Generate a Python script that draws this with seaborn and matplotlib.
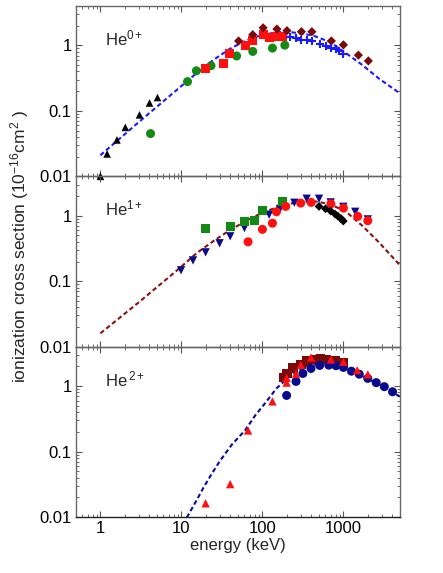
import matplotlib
matplotlib.use("Agg")
import matplotlib.pyplot as plt
import seaborn as sns
import pandas as pd
from matplotlib.ticker import LogLocator, FixedLocator, FixedFormatter, NullFormatter

# ---------------- data ----------------
# Panel 1: He0+
p1_tri_x = [1, 1.21, 1.6, 2.03, 3.04, 4.04, 5.07]
p1_tri_y = [0.01, 0.022, 0.036, 0.056, 0.087, 0.132, 0.16]
p1_circ_x = [4.16, 11.9, 15.3, 23.2, 48, 76, 133, 189]
p1_circ_y = [0.045, 0.28, 0.41, 0.49, 0.69, 0.81, 0.91, 1.01]
p1_sq_x = [19.9, 33.2, 39.8, 61, 74.6, 104, 121, 151, 176]
p1_sq_y = [0.45, 0.525, 0.765, 1.0, 1.18, 1.46, 1.3, 1.39, 1.39]
p1_dia_x = [50.8, 76, 102, 151, 201, 303, 408, 710, 1000, 1530, 2030]
p1_dia_y = [1.17, 1.46, 1.86, 1.78, 1.68, 1.62, 1.62, 1.17, 1.02, 0.71, 0.58]
p1_plus_x = [217, 257, 303, 358, 408, 518, 614, 710, 800, 885, 990]
p1_plus_y = [1.34, 1.3, 1.23, 1.21, 1.15, 1.06, 0.99, 0.92, 0.87, 0.82, 0.74]
p1_line_x = [1, 3, 10, 15.5, 24.8, 39.8, 63.6, 102, 163, 238, 420, 680, 1080, 1720, 2760, 5000]
p1_line_y = [0.021, 0.068, 0.24, 0.38, 0.6, 0.89, 1.2, 1.47, 1.6, 1.58, 1.42, 1.13, 0.76, 0.50, 0.31, 0.185]

# Panel 2: He1+
p2_tri_x = [9.9, 13.9, 19.9, 29.6, 40, 60, 82, 121, 165, 248, 352, 500, 696, 996, 1400, 2000]
p2_tri_y = [0.147, 0.208, 0.276, 0.38, 0.485, 0.65, 0.84, 1.04, 1.27, 1.58, 1.82, 1.82, 1.6, 1.37, 1.15, 0.88]
p2_sq_x = [19.9, 40, 60, 80, 100, 178]
p2_sq_y = [0.63, 0.69, 0.81, 0.86, 1.22, 1.66]
p2_circ_x = [66.5, 100, 133, 149, 194, 297, 400, 700, 1000, 1500, 2000]
p2_circ_y = [0.40, 0.62, 0.77, 1.15, 1.39, 1.56, 1.6, 1.52, 1.31, 0.98, 0.84]
p2_dia_x = [500, 600, 696, 790, 860, 940, 996]
p2_dia_y = [1.39, 1.28, 1.18, 1.06, 0.98, 0.90, 0.83]
p2_line_x = [1, 3, 9.6, 15.5, 24.8, 39.8, 63.6, 102, 163, 260, 420, 680, 1080, 1720, 2760, 5000]
p2_line_y = [0.016, 0.048, 0.16, 0.27, 0.41, 0.605, 0.84, 1.13, 1.39, 1.6, 1.68, 1.51, 1.15, 0.70, 0.39, 0.175]

# Panel 3: He2+
p3_tri_x = [19.9, 40, 66.5, 133, 199, 199, 260, 297, 398, 700, 1000, 1480, 2000]
p3_tri_y = [0.0162, 0.0318, 0.21, 0.584, 1.13, 1.34, 1.55, 2.12, 2.74, 2.55, 2.36, 1.75, 1.51]
p3_sq_x = [184, 200, 240, 300, 350, 450, 520, 620, 800, 1000]
p3_sq_y = [1.35, 1.55, 1.9, 2.15, 2.4, 2.55, 2.6, 2.55, 2.4, 2.25]
p3_circ_x = [199, 260, 316, 398, 510, 660, 810, 1000, 1255, 1570, 2000, 2540, 3200, 4040]
p3_circ_y = [0.72, 1.18, 1.56, 1.86, 2.07, 2.09, 2.05, 1.93, 1.69, 1.52, 1.31, 1.13, 0.98, 0.82]
p3_line_x = [11.65, 15, 18.7, 23.5, 29.9, 42, 60.9, 82, 112, 150, 198, 273, 400, 550, 700, 1000, 1720, 2760, 5000]
p3_line_y = [0.0098, 0.017, 0.028, 0.045, 0.072, 0.128, 0.21, 0.36, 0.58, 0.93, 1.27, 1.75, 2.1, 2.25, 2.22, 1.95, 1.42, 1.06, 0.69]

panel_labels = ["He$^{0+}$", "He$^{1+}$", "He$^{\\,2+}$"]
y_ticks = [0.01, 0.1, 1]
y_ticklabels = ["0.01", "0.1", "1"]
x_ticks = [1, 10, 100, 1000]
x_ticklabels = ["1", "10", "100", "1000"]

# ---------------- style ----------------
sns.set_style("ticks")
plt.rcParams["font.family"] = ["Liberation Sans", "DejaVu Sans"]
plt.rcParams["mathtext.fontset"] = "custom"
plt.rcParams["mathtext.rm"] = "Liberation Sans"
plt.rcParams["mathtext.it"] = "Liberation Sans:italic"
plt.rcParams["mathtext.bf"] = "Liberation Sans:bold"

fig = plt.figure(figsize=(4.43, 5.73), dpi=100)
axes = fig.subplots(3, 1, sharex=True, gridspec_kw=dict(hspace=0))
fig.subplots_adjust(left=0.1716, right=0.903, top=0.9895, bottom=0.0977)

def df(x, y):
    return pd.DataFrame({"x": x, "y": y})

def scat(ax, x, y, marker, color, s, clip=True, lw=0):
    sns.scatterplot(data=df(x, y), x="x", y="y", ax=ax, marker=marker, color=color,
                    s=s, linewidth=lw, edgecolor=color if lw else "none",
                    clip_on=clip, zorder=3, legend=False)

def line(ax, x, y, color):
    sns.lineplot(data=df(x, y), x="x", y="y", ax=ax, color=color, lw=1.5,
                 dashes=False, linestyle=(0, (2.2, 1.4)), zorder=2, legend=False, sort=False)

ax1, ax2, ax3 = axes
line(ax1, p1_line_x, p1_line_y, "#1a1aff")
scat(ax1, p1_tri_x, p1_tri_y, "^", "black", 30, clip=False)
scat(ax1, p1_circ_x, p1_circ_y, "o", "#138a13", 42)
scat(ax1, p1_sq_x, p1_sq_y, "s", "#ff1010", 42)
scat(ax1, p1_dia_x, p1_dia_y, "D", "#7a0a0a", 22)
scat(ax1, p1_plus_x, p1_plus_y, "+", "#1a1aff", 40, lw=1.5)

line(ax2, p2_line_x, p2_line_y, "#8b1010")
scat(ax2, p2_tri_x, p2_tri_y, "v", "#0a0a8c", 36)
scat(ax2, p2_sq_x, p2_sq_y, "s", "#138a13", 42)
scat(ax2, p2_circ_x, p2_circ_y, "o", "#ff1010", 42)
scat(ax2, p2_dia_x, p2_dia_y, "D", "black", 20)

line(ax3, p3_line_x, p3_line_y, "#0a0a9a")
scat(ax3, p3_sq_x, p3_sq_y, "s", "#7a0a0a", 48)
scat(ax3, p3_circ_x, p3_circ_y, "o", "#0a0a8c", 42)
scat(ax3, p3_tri_x, p3_tri_y, "^", "#ff1010", 36)

for ax, lab in zip(axes, panel_labels):
    ax.set_facecolor("none")
    ax.set_xscale("log")
    ax.set_yscale("log")
    ax.set_xlim(0.5, 5000)
    ax.set_ylim(0.01, 4)
    ax.yaxis.set_major_locator(FixedLocator(y_ticks))
    ax.yaxis.set_major_formatter(FixedFormatter(y_ticklabels))
    ax.yaxis.set_minor_locator(LogLocator(base=10, subs=range(2, 10), numticks=20))
    ax.yaxis.set_minor_formatter(NullFormatter())
    ax.xaxis.set_major_locator(FixedLocator(x_ticks))
    ax.xaxis.set_major_formatter(FixedFormatter(x_ticklabels))
    ax.xaxis.set_minor_locator(LogLocator(base=10, subs=range(2, 10), numticks=20))
    ax.xaxis.set_minor_formatter(NullFormatter())
    ax.tick_params(which="both", direction="in", top=True, right=True,
                   colors="#555555", labelcolor="black", labelsize=12, pad=3)
    ax.tick_params(which="major", length=4, width=0.8)
    ax.tick_params(which="minor", length=2, width=0.6)
    for sp in ax.spines.values():
        sp.set_color("#666666")
        sp.set_linewidth(1.0)
    ax.set_xlabel("")
    ax.set_ylabel("")
    ax.text(0.09, 0.81, lab, transform=ax.transAxes, fontsize=12, va="center", ha="left")

ax1.tick_params(axis="x", labelbottom=False)
ax2.tick_params(axis="x", labelbottom=False)
ax3.spines["bottom"].set_color("#222222")
ax3.set_xlabel("energy (keV)", fontsize=12, labelpad=1)
fig.text(0.045, 0.569, "ionization cross section (10$^{-16}$cm$^{2}$ )", rotation=90,
         fontsize=12.5, ha="center", va="center")

fig.savefig("out.png", dpi=100)
